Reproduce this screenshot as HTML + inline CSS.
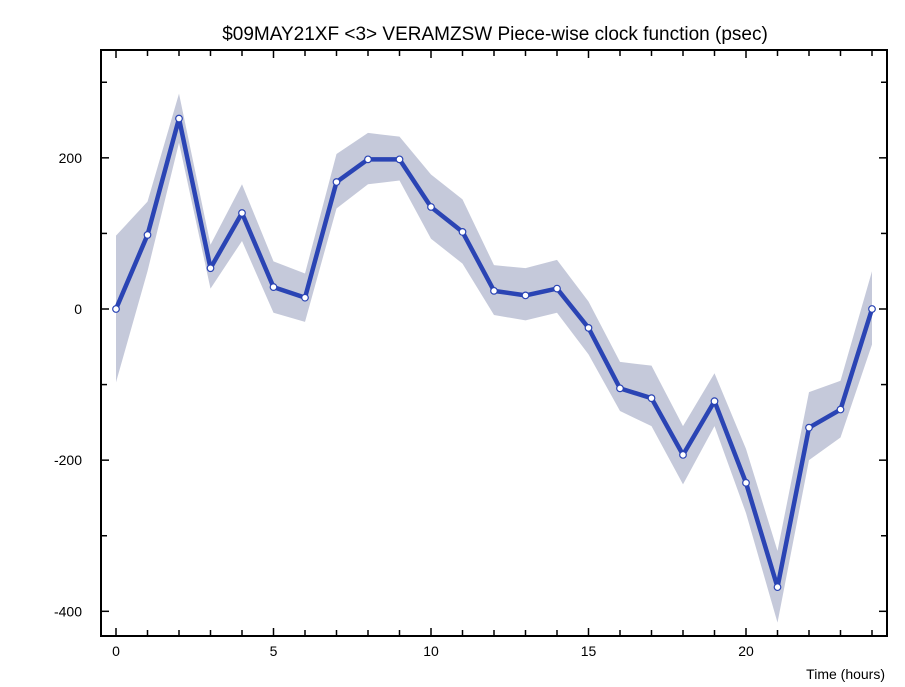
<!DOCTYPE html>
<html><head><meta charset="utf-8"><style>
body{margin:0;background:#fff;}
svg{display:block;font-family:"Liberation Sans",sans-serif;}
</style></head><body>
<svg id="chart" width="905" height="687">
<text x="495" y="40" text-anchor="middle" font-size="19" fill="#000">$09MAY21XF &lt;3&gt;  VERAMZSW  Piece-wise clock function (psec)</text>
<g id="band"></g>
<g id="line"></g>
<g id="axes"></g>
<text x="885" y="679" text-anchor="end" font-size="14" fill="#000">Time (hours)</text>
</svg>
<script>
const hours=[0,1,2,3,4,5,6,7,8,9,10,11,12,13,14,15,16,17,18,19,20,21,22,23,24];
const values=[0,98,252,54,127,29,15,168,198,198,135,102,24,18,27,-25,-105,-118,-193,-122,-230,-368,-157,-133,0];
const upper=[97,142,285,85,165,63,47,205,233,228,178,145,58,54,65,10,-70,-75,-155,-85,-185,-320,-110,-95,50];
const lower=[-97,50,220,27,90,-5,-17,133,165,170,93,60,-8,-15,-5,-60,-135,-155,-232,-155,-270,-415,-200,-170,-47];
const xTicks=[0,5,10,15,20];
const yTicks=[-400,-200,0,200];
const L=101,R=887,T=50,B=636;
function xs(h){return 116+h*31.5;}
function ys(v){return 309-v*0.7558;}
const NS="http://www.w3.org/2000/svg";
function mk(tag,attrs,parent){const e=document.createElementNS(NS,tag);for(const k in attrs)e.setAttribute(k,attrs[k]);parent.appendChild(e);return e;}
const band=document.getElementById('band'),line=document.getElementById('line'),axes=document.getElementById('axes');
let pts=hours.map((h,i)=>xs(h)+','+ys(upper[i]));
pts=pts.concat(hours.map((h,i)=>xs(h)+','+ys(lower[i])).reverse());
const poly=mk('polygon',{points:pts.join(' '),fill:'#c5c9da'},band);


const pl=mk('polyline',{points:hours.map((h,i)=>xs(h)+','+ys(values[i])).join(' '),fill:'none',stroke:'#2a44b4','stroke-width':4.5,'stroke-linejoin':'round'},line);


hours.forEach((h,i)=>{
 const c=mk('circle',{cx:xs(h),cy:ys(values[i]),r:3.3,fill:'#fff',stroke:'#2a44b4','stroke-width':1.2},line);
 
 
});
const fr=mk('rect',{x:L,y:T,width:R-L,height:B-T,fill:'none',stroke:'#000','stroke-width':2},axes);


for(let h=0;h<=24;h++){
 const len=h%5===0?8:6;
 mk('line',{x1:xs(h),x2:xs(h),y1:B,y2:B-len,stroke:'#000','stroke-width':1.5},axes);
 mk('line',{x1:xs(h),x2:xs(h),y1:T,y2:T+len,stroke:'#000','stroke-width':1.5},axes);
}
for(let v=-400;v<=300;v+=100){
 const len=v%200===0?8:6;
 mk('line',{x1:L,x2:L+len,y1:ys(v),y2:ys(v),stroke:'#000','stroke-width':1.5},axes);
 mk('line',{x1:R,x2:R-len,y1:ys(v),y2:ys(v),stroke:'#000','stroke-width':1.5},axes);
}
xTicks.forEach(t=>{
 const tx=mk('text',{x:xs(t),y:656,'text-anchor':'middle','font-size':14},axes);
 tx.textContent=t;
 
 
});
yTicks.forEach(t=>{
 const tx=mk('text',{x:82,y:ys(t)+5,'text-anchor':'end','font-size':14},axes);
 tx.textContent=t;
 
 
});
</script>
</body></html>
